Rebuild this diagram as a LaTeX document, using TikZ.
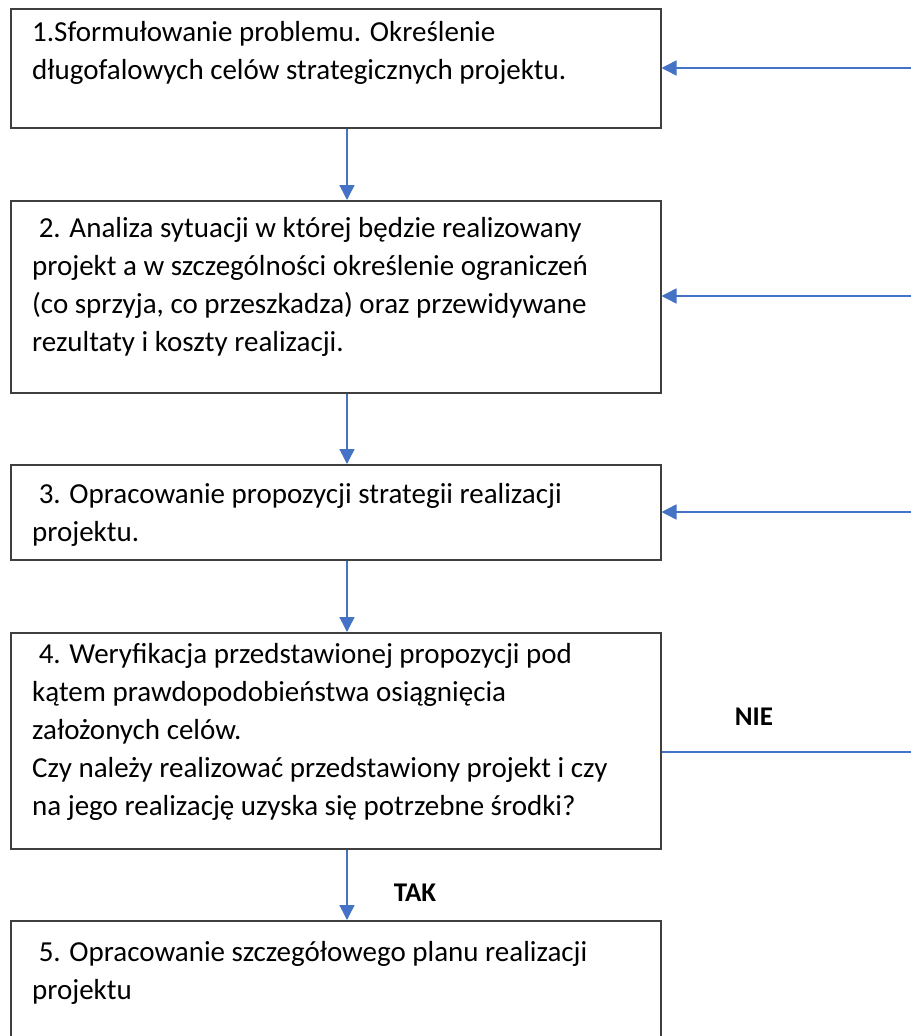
\documentclass[tikz,border=0pt]{standalone}
\usepackage{fontspec}
\setmainfont{Carlito}
\usetikzlibrary{arrows.meta}
\definecolor{flowblue}{HTML}{4472C4}
\definecolor{boxline}{HTML}{3F3F3F}
% fixed height for the first line, so a text node's top sits 21pt above its first baseline
\newcommand{\firstrow}{\rule{0pt}{21pt}}
\begin{document}
\begin{tikzpicture}[x=1pt,y=-1pt,
  stepbox/.style={draw=boxline, line width=1.5pt, rectangle, inner sep=0pt, anchor=north west, minimum width=650pt},
  steptext/.style={anchor=north west, inner sep=0pt, align=left, font=\fontsize{29}{38}\selectfont},
  flow/.style={draw=flowblue, line width=1.5pt, -{Triangle[length=15pt,width=15pt]}},
  plainflow/.style={draw=flowblue, line width=1.5pt},
  answer/.style={font=\fontsize{27}{32}\selectfont\bfseries, inner sep=0pt}]
\clip (0,0) rectangle (911,1036);
\fill[white] (0,0) rectangle (911,1036);

% process boxes
\node[stepbox, minimum height=119pt] (b1) at (10,8) {};
\node[stepbox, minimum height=192pt] (b2) at (10,200) {};
\node[stepbox, minimum height=95pt]  (b3) at (10,464) {};
\node[stepbox, minimum height=216pt] (b4) at (10,632) {};
\node[stepbox, minimum height=150pt] (b5) at (10,920) {};

% box texts
\node[steptext] (t1) at (32,20) {\firstrow 1.Sformułowanie problemu. Określenie\\długofalowych celów strategicznych projektu.};
\node[steptext] (t2) at (32,216) {\firstrow\hspace*{0.226em}2. Analiza sytuacji w której będzie realizowany\\projekt a w szczególności określenie ograniczeń\\(co sprzyja, co przeszkadza) oraz przewidywane\\rezultaty i koszty realizacji.};
\node[steptext] (t3) at (32,482) {\firstrow\hspace*{0.226em}3. Opracowanie propozycji strategii realizacji\\projektu.};
\node[steptext] (t4) at (32,642) {\firstrow\hspace*{0.226em}4. Weryfikacja przedstawionej propozycji pod\\kątem prawdopodobieństwa osiągnięcia\\założonych celów.\\Czy należy realizować przedstawiony projekt i czy\\na jego realizację uzyska się potrzebne środki?};
\node[steptext] (t5) at (32,940) {\firstrow\hspace*{0.226em}5. Opracowanie szczegółowego planu realizacji\\projektu};

% main flow
\coordinate (spine) at (347,0);
\draw[flow] (b1.south -| spine) -- (b2.north -| spine);
\draw[flow] (b2.south -| spine) -- (b3.north -| spine);
\draw[flow] (b3.south -| spine) -- (b4.north -| spine);
\draw[flow] (b4.south -| spine) -- (b5.north -| spine);

% feedback lines from the right
\coordinate (r1) at (911,68);
\coordinate (r2) at (911,296);
\coordinate (r3) at (911,512);
\coordinate (r4) at (911,752);
\draw[flow] (r1) -- (r1 -| b1.east);
\draw[flow] (r2) -- (r2 -| b2.east);
\draw[flow] (r3) -- (r3 -| b3.east);
\draw[plainflow] (b4.east |- r4) -- (r4);

% decision labels
\node[answer] (nie) at (754,717) {NIE};
\node[answer] (tak) at (415,893) {TAK};
\end{tikzpicture}
\end{document}
